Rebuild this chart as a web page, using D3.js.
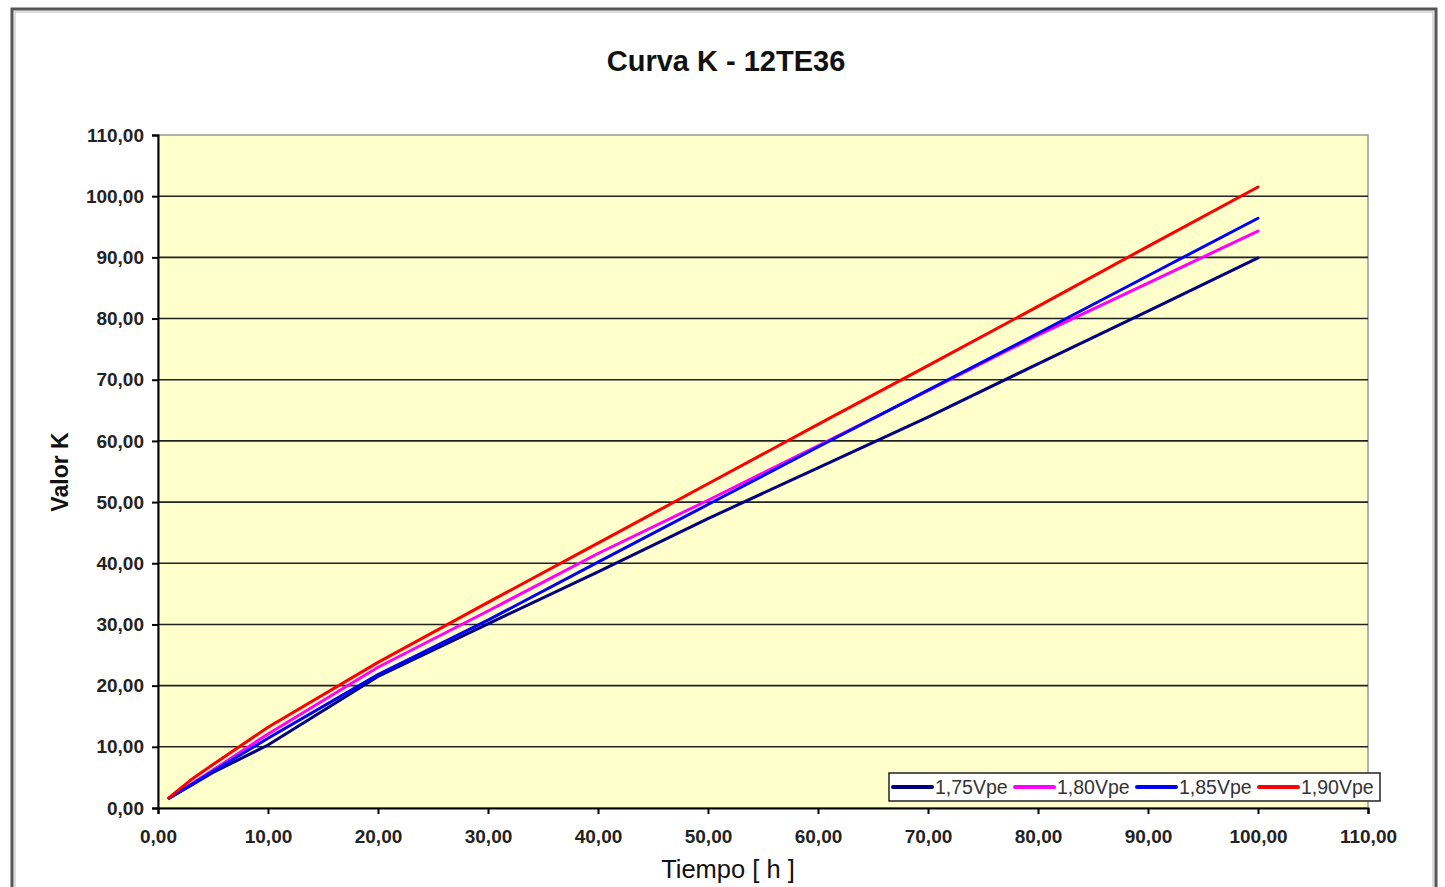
<!DOCTYPE html>
<html>
<head>
<meta charset="utf-8">
<script src="https://cdn.jsdelivr.net/npm/d3@7"></script>
<style>
  html, body { margin: 0; padding: 0; background: #fff; }
  svg { display: block; font-family: Arial, "Liberation Sans", sans-serif; }
</style>
</head>
<body>
<div id="chart"></div>
<script>
// Curva K - 12TE36: valor K vs tiempo para cuatro tensiones finales

var hours = [1, 3, 5, 10, 20, 30, 40, 50, 60, 70, 80, 90, 100];
var k175 = [1.6, 3.7, 5.8, 10.3, 21.5, 30.1, 38.6, 47.3, 55.6, 63.9, 72.6, 81.2, 89.9];
var k180 = [1.6, 3.9, 6.2, 12.1, 23.0, 32.2, 41.6, 50.3, 59.2, 68.2, 77.3, 85.8, 94.3];
var k185 = [1.6, 3.8, 6.0, 11.4, 21.8, 30.7, 40.2, 49.6, 59.0, 68.3, 77.6, 87.0, 96.4];
var k190 = [1.7, 4.6, 7.1, 13.2, 23.8, 33.6, 43.3, 53.0, 62.7, 72.3, 82.0, 91.8, 101.5];

var seriesNames = ['1,75Vpe', '1,80Vpe', '1,85Vpe', '1,90Vpe'];
var seriesColors = ['#000080', '#ff00ff', '#0000ff', '#ff0000'];
var xTicks = [0, 10, 20, 30, 40, 50, 60, 70, 80, 90, 100, 110];
var yTicks = [0, 10, 20, 30, 40, 50, 60, 70, 80, 90, 100, 110];

var width = 1445, height = 887;
var margin = { top: 135, right: 75, bottom: 79, left: 158 };

var svg = d3.select('#chart').append('svg')
  .attr('width', width)
  .attr('height', height);

// outer frame
svg.append('rect')
  .attr('x', 12).attr('y', 9)
  .attr('width', 1424).attr('height', 890)
  .attr('fill', '#fff')
  .attr('stroke', '#555')
  .attr('stroke-width', 3);
svg.append('rect')
  .attr('x', 15).attr('y', 12)
  .attr('width', 1418).attr('height', 890)
  .attr('fill', 'none')
  .attr('stroke', '#bbb')
  .attr('stroke-width', 1);

var x = d3.scaleLinear().domain([0, 110]).range([margin.left, width - margin.right - 2]);
var y = d3.scaleLinear().domain([0, 110]).range([height - margin.bottom, margin.top]);

// plot area
svg.append('rect')
  .attr('x', x(0)).attr('y', y(110))
  .attr('width', x(110) - x(0)).attr('height', y(0) - y(110))
  .attr('fill', '#ffffcc')
  .attr('stroke', '#999')
  .attr('stroke-width', 1.5);

// gridlines
svg.append('g')
  .selectAll('line')
  .data(yTicks.slice(1, -1))
  .join('line')
  .attr('x1', x(0)).attr('x2', x(110))
  .attr('y1', function (d) { return y(d); })
  .attr('y2', function (d) { return y(d); })
  .attr('stroke', '#222')
  .attr('stroke-width', 1.6);

var fmt = function (d) { return d3.format('.2f')(d).replace('.', ','); };

svg.append('g')
  .attr('transform', 'translate(0,' + y(0) + ')')
  .call(d3.axisBottom(x).tickValues(xTicks).tickFormat(fmt).tickSize(6).tickPadding(16))
  .call(function (g) { g.select('.domain').attr('stroke', '#000').attr('stroke-width', 2); })
  .call(function (g) { g.selectAll('line').attr('stroke', '#000').attr('stroke-width', 2); })
  .call(function (g) { g.selectAll('text').attr('font-size', 19).attr('font-weight', 'bold').attr('fill', '#222').attr('font-family', 'Arial, "Liberation Sans", sans-serif'); });

svg.append('g')
  .attr('transform', 'translate(' + x(0) + ',0)')
  .call(d3.axisLeft(y).tickValues(yTicks).tickFormat(fmt).tickSize(6).tickPadding(8))
  .call(function (g) { g.select('.domain').attr('stroke', '#000').attr('stroke-width', 2); })
  .call(function (g) { g.selectAll('line').attr('stroke', '#000').attr('stroke-width', 2); })
  .call(function (g) { g.selectAll('text').attr('font-size', 19).attr('font-weight', 'bold').attr('fill', '#222').attr('font-family', 'Arial, "Liberation Sans", sans-serif'); });

// series
var allSeries = [k175, k180, k185, k190];
var line = d3.line()
  .x(function (d, i) { return x(hours[i]); })
  .y(function (d) { return y(d); });

allSeries.forEach(function (vals, i) {
  svg.append('path')
    .datum(vals)
    .attr('fill', 'none')
    .attr('stroke', seriesColors[i])
    .attr('stroke-width', 3)
    .attr('stroke-linecap', 'round')
    .attr('stroke-linejoin', 'round')
    .attr('d', line);
});

// titles
svg.append('text')
  .attr('x', 726).attr('y', 71)
  .attr('text-anchor', 'middle')
  .attr('font-size', 29).attr('font-weight', 'bold').attr('fill', '#111')
  .text('Curva K - 12TE36');

svg.append('text')
  .attr('transform', 'translate(68,' + 472 + ') rotate(-90)')
  .attr('text-anchor', 'middle')
  .attr('font-size', 23).attr('font-weight', 'bold').attr('fill', '#111')
  .text('Valor K');

svg.append('text')
  .attr('x', 728).attr('y', 878)
  .attr('text-anchor', 'middle')
  .attr('font-size', 25.5).attr('fill', '#111')
  .text('Tiempo [ h ]');

// legend
var legend = svg.append('g').attr('transform', 'translate(889,773)');
legend.append('rect')
  .attr('width', 491).attr('height', 28)
  .attr('fill', '#fff')
  .attr('stroke', '#222')
  .attr('stroke-width', 1.5);
seriesNames.forEach(function (name, i) {
  var row = legend.append('g').attr('transform', 'translate(' + (4 + i * 122) + ',14)');
  row.append('line')
    .attr('x1', 0).attr('x2', 39).attr('y1', 0).attr('y2', 0)
    .attr('stroke', seriesColors[i])
    .attr('stroke-width', 4)
    .attr('stroke-linecap', 'round');
  row.append('text')
    .attr('x', 42).attr('y', 7)
    .attr('font-size', 19.5).attr('fill', '#333')
    .text(name);
});
</script>
</body>
</html>
